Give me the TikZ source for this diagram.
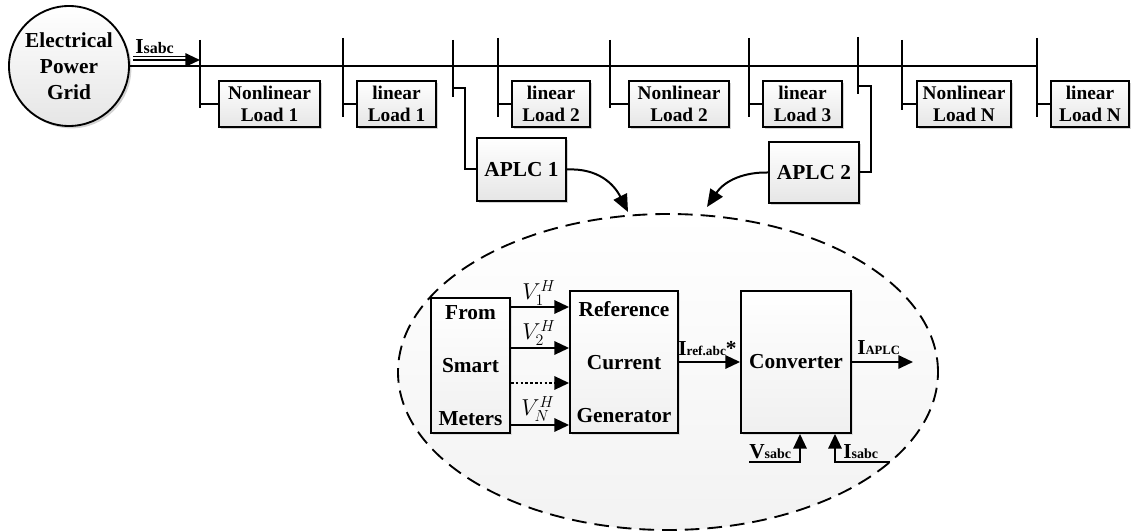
\documentclass[tikz,border=0pt]{standalone}
\usepackage{fontspec}
\setmainfont{Liberation Serif}
\usetikzlibrary{shadows,arrows.meta,calc,shapes.geometric}
% big letter followed by a smaller index set on the same baseline
\newcommand\quantity[3]{{\fontsize{16}{18}\selectfont #1}{\fontsize{#3}{12}\selectfont #2}}

\begin{document}
\begin{tikzpicture}[x=0.75pt,y=-0.75pt,
  shadowed/.style={drop shadow={shadow xshift=1.8pt,shadow yshift=-1.8pt,opacity=0.35}},
  loadbox/.style={draw,line width=1.4pt,top color=white,bottom color=gray!20,shadowed,
    inner sep=0pt,align=center,minimum height=34.5pt,
    font=\bfseries\fontsize{14.5}{17}\selectfont},
  aplcbox/.style={loadbox,font=\bfseries\fontsize{16}{18}\selectfont},
  blockbox/.style={draw,line width=1.4pt,top color=white,bottom color=gray!12,
    drop shadow={shadow xshift=1.5pt,shadow yshift=-1.5pt,opacity=0.2},
    inner sep=0pt,align=center,font=\bfseries\fontsize{16}{40}\selectfont},
  busline/.style={line width=1.8pt},
  bustick/.style={line width=1.6pt},
  wire/.style={line width=1.5pt},
  arr/.style={wire,-{Triangle[length=11pt,width=10pt]}},
  bendarrow/.style={wire,-{Triangle[length=13pt,width=11pt]}},
  qlabel/.style={inner sep=0pt,font=\bfseries},
  mathlabel/.style={inner sep=0pt,font=\fontsize{17.5}{20}\selectfont}]

\useasboundingbox (0,0) rectangle (1133,531);

% ---------- distribution feeder ----------
\node[circle,draw,line width=1.4pt,minimum size=90pt,inner sep=0pt,
      top color=white,bottom color=gray!20,shadowed,align=center,
      font=\bfseries\fontsize{16}{19.5}\selectfont] (grid) at (69,66)
      {Electrical\\Power\\Grid};

% bus taps
\coordinate (t1) at (200,66);
\coordinate (t2) at (343,66);
\coordinate (t3) at (453,66);
\coordinate (t4) at (498,66);
\coordinate (t5) at (610,66);
\coordinate (t6) at (749,66);
\coordinate (t7) at (858,66);
\coordinate (t8) at (902,66);
\coordinate (t9) at (1037,66);

\draw[busline] (grid.east) -- (t9);
\draw[bustick] ($(t1)+(0,-26)$) -- ($(t1)+(0,42)$);
\draw[bustick] ($(t2)+(0,-28)$) -- ($(t2)+(0,51)$);
\draw[bustick] ($(t3)+(0,-26)$) -- ($(t3)+(0,31)$);
\draw[bustick] ($(t4)+(0,-28)$) -- ($(t4)+(0,51)$);
\draw[bustick] ($(t5)+(0,-26)$) -- ($(t5)+(0,42)$);
\draw[bustick] ($(t6)+(0,-28)$) -- ($(t6)+(0,51)$);
\draw[bustick] ($(t7)+(0,-29)$) -- ($(t7)+(0,28)$);
\draw[bustick] ($(t8)+(0,-26)$) -- ($(t8)+(0,44)$);
\draw[bustick] ($(t9)+(0,-28)$) -- ($(t9)+(0,51)$);

% grid current
\coordinate (isgrid) at (133,60);
\draw[arr] (isgrid) -- (isgrid -| t1);
\draw[line width=0.8pt] ($(isgrid)+(0,-3.5)$) -- ($(isgrid)+(53,-3.5)$);
\node[qlabel,anchor=base west] (isgridlbl) at (135,54) {\quantity{I}{sabc}{12}};

% loads
\node[loadbox,minimum width=75.75pt] (nl1) at (269.5,104) {Nonlinear\\Load 1};
\node[loadbox,minimum width=59.25pt] (l1)  at (396.5,104) {linear\\Load 1};
\node[loadbox,minimum width=58.5pt]  (l2)  at (551,104)   {linear\\Load 2};
\node[loadbox,minimum width=75pt]    (nl2) at (679,104)   {Nonlinear\\Load 2};
\node[loadbox,minimum width=59.25pt] (l3)  at (802.5,104) {linear\\Load 3};
\node[loadbox,minimum width=70.5pt]  (nln) at (964,104)   {Nonlinear\\Load N};
\node[loadbox,minimum width=58.5pt]  (ln)  at (1090,104)  {linear\\Load N};

\draw[wire] (t1 |- nl1.west) -- (nl1.west);
\draw[wire] (t2 |- l1.west)  -- (l1.west);
\draw[wire] (t4 |- l2.west)  -- (l2.west);
\draw[wire] (t5 |- nl2.west) -- (nl2.west);
\draw[wire] (t6 |- l3.west)  -- (l3.west);
\draw[wire] (t8 |- nln.west) -- (nln.west);
\draw[wire] (t9 |- ln.west)  -- (ln.west);

% active power line conditioners
\node[aplcbox,minimum width=66.75pt,minimum height=47.25pt] (aplc1) at (521.5,169.5) {APLC 1};
\node[aplcbox,minimum width=67.5pt,minimum height=45.75pt]  (aplc2) at (814,172.5)   {APLC 2};

\draw[wire] ($(t3)+(0,22)$) -| ($(aplc1.west)+(-11,0)$) -- (aplc1.west);
\draw[wire] ($(t7)+(0,20)$) -| ($(aplc2.east)+(11,0)$) -- (aplc2.east);

% ---------- APLC internal structure ----------
\node[ellipse,draw,line width=1.4pt,dash pattern=on 11pt off 6pt,
      minimum width=405pt,minimum height=237pt,inner sep=0pt,
      top color=white,bottom color=gray!10] (detail) at (668,372) {};

\coordinate (tip1) at (628,212);
\coordinate (tip2) at (707,207);
\draw[bendarrow] (aplc1.east) .. controls (598,168) and (614,184) .. (tip1);
\draw[bendarrow] (aplc2.west) .. controls (745,172) and (725,180) .. (tip2);

\node[blockbox,minimum width=59.25pt,minimum height=101.25pt] (meters) at (470.5,365.5)
      {From\\Smart\\Meters};
\node[blockbox,minimum width=81pt,minimum height=106.5pt] (refgen) at (624,362)
      {Reference\\Current\\Generator};
\node[blockbox,minimum width=82.5pt,minimum height=106.5pt] (conv) at (796,362)
      {Converter};

% harmonic voltages from the meters
\draw[arr] (meters.east |- 0,307) -- (refgen.west |- 0,307);
\draw[arr] (meters.east |- 0,348) -- (refgen.west |- 0,348);
\draw[wire,dash pattern=on 2pt off 1.6pt,-{Triangle[length=11pt,width=10pt]}]
      (meters.east |- 0,383) -- (refgen.west |- 0,383);
\draw[arr] (meters.east |- 0,425) -- (refgen.west |- 0,425);
\node[mathlabel] (v1) at (539,293) {$V_1^H$};
\node[mathlabel] (v2) at (539,333) {$V_2^H$};
\node[mathlabel] (vn) at (538,409) {$V_N^H$};

% reference current
\draw[arr] (refgen.east) -- (conv.west);
\node[qlabel,anchor=base west] (iref) at (678,355)
      {\quantity{I}{ref.abc}{10}{\fontsize{16}{18}\selectfont*}};

% compensating current
\coordinate (iout) at (913,362);
\draw[arr] (conv.east) -- (iout);
\node[qlabel,anchor=base west] (iaplc) at (857,354) {\quantity{I}{APLC}{9.5}};

% measured grid voltage and current
\coordinate (vsin) at (749,462);
\coordinate (isin) at (890,462);
\draw[arr] (vsin) -| ($(conv.south)+(4,0)$);
\draw[arr] (isin) -| ($(conv.south)+(39,0)$);
\node[qlabel,anchor=base west] (vslbl) at (749,458) {\quantity{V}{sabc}{10.5}};
\node[qlabel,anchor=base west] (islbl) at (843,458) {\quantity{I}{sabc}{10.5}};

\end{tikzpicture}
\end{document}
